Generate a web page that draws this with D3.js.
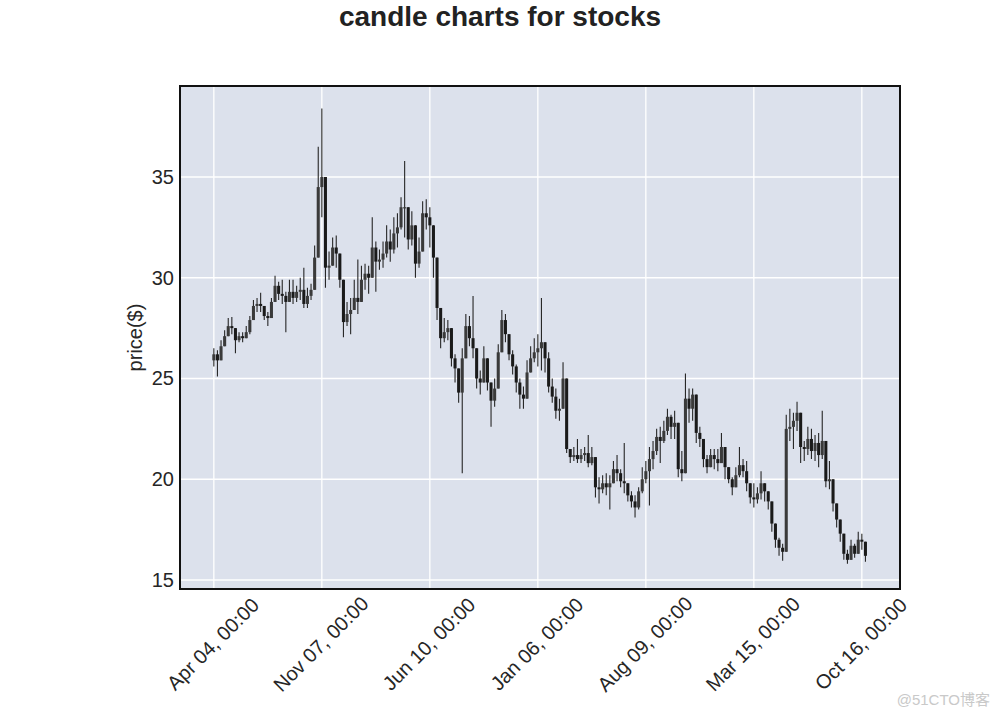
<!DOCTYPE html>
<html>
<head>
<meta charset="utf-8">
<script src="https://cdn.jsdelivr.net/npm/d3@7"></script>
<style>
  html, body { margin: 0; padding: 0; background: #ffffff; }
  svg { display: block; font-family: "Liberation Sans", Arial, Helvetica, sans-serif; }
</style>
</head>
<body>
<svg id="chart" width="1000" height="718"></svg>
<script>
// ---- data (one candle per 5 trading days) ----
const firstOpen = 25.9;
const closes = [
26.2,25.9,26.6,27.1,27.6,27.5,26.9,27.1,27.0,27.3,
27.9,28.6,28.7,28.6,28.1,28.0,28.8,29.6,29.2,29.1,
28.8,29.3,29.0,29.3,29.4,28.7,29.1,29.4,31.0,34.5,
35.0,30.5,30.6,31.5,31.2,29.9,27.8,28.2,28.4,29.0,
28.8,29.9,30.2,30.0,31.5,30.8,30.9,31.2,31.8,31.4,
32.2,32.5,33.5,33.5,31.9,32.6,30.7,31.3,33.2,33.0,
32.6,31.0,28.5,27.0,27.3,27.5,26.0,25.5,24.3,26.0,
27.6,27.0,26.5,25.0,24.8,26.0,24.8,23.9,24.5,26.3,
27.9,27.2,26.2,25.6,24.8,24.2,24.0,25.3,26.0,26.3,
26.5,26.8,26.0,24.6,24.1,23.4,23.5,25.0,21.5,21.1,
21.2,21.0,21.2,21.3,20.8,21.1,19.6,19.5,19.8,19.6,
19.8,20.5,20.3,19.9,19.8,19.2,18.9,18.6,19.4,20.0,
20.4,21.0,21.4,22.1,21.9,22.4,23.1,22.6,22.8,20.5,
20.3,24.0,23.5,24.2,22.3,22.0,21.0,20.6,21.2,21.0,
20.8,21.6,20.6,20.0,19.6,20.2,20.7,20.4,19.8,19.1,
19.0,19.3,19.8,19.4,18.9,17.8,17.0,16.6,16.4,22.5,
22.6,22.9,23.3,21.6,21.5,22.0,21.4,21.8,21.2,21.9,
19.9,20.0,18.8,18.0,17.3,16.3,16.0,16.7,16.3,17.0,
16.9,16.2];
const highs = [
26.5,26.4,26.9,27.4,28.0,28.05,27.5,27.3,27.3,27.6,
28.1,28.9,29.0,29.25,28.6,28.3,29.0,30.1,29.8,29.9,
29.3,29.9,29.9,29.6,30.0,30.5,29.5,29.7,31.6,36.5,
38.4,33.5,31.3,32.0,32.1,30.8,28.5,28.8,29.0,29.9,
30.9,30.6,30.7,30.6,33.0,31.8,31.4,31.8,32.6,32.4,
33.0,33.2,34.0,35.8,33.0,33.3,32.0,32.0,33.8,33.9,
33.5,32.5,30.8,28.0,28.0,27.9,26.9,26.2,25.3,26.5,
28.2,28.1,29.1,26.3,25.4,26.6,25.8,24.6,25.0,26.7,
28.4,28.2,27.0,26.4,25.7,25.0,24.6,25.9,26.6,27.0,
27.2,29.0,26.7,26.3,25.0,24.5,24.0,25.8,25.0,21.5,
21.6,22.0,21.5,21.6,22.2,21.6,21.0,20.1,20.2,20.3,
20.2,20.9,21.2,20.5,21.8,19.8,19.4,19.2,19.6,20.6,
20.9,21.6,21.9,22.5,22.6,22.9,23.5,23.2,23.4,22.0,
21.4,25.25,24.5,24.5,22.9,22.6,21.8,21.2,21.5,21.5,
21.5,22.3,21.3,20.5,20.1,20.6,21.6,21.0,20.9,19.6,
19.8,19.6,20.4,19.8,19.3,18.8,17.6,17.1,16.8,23.2,
23.5,23.3,23.85,22.6,21.9,22.6,22.5,22.2,22.3,23.4,
21.8,20.9,19.8,18.8,17.9,16.9,16.5,17.0,16.8,17.4,
17.3,16.6];
const lows = [
25.6,25.1,26.0,26.7,27.2,27.2,26.25,26.8,26.8,27.0,
27.2,27.9,28.3,28.3,27.9,27.6,28.0,28.9,28.9,28.7,
27.3,28.8,28.7,28.8,28.9,28.5,28.5,28.9,29.4,32.5,
33.0,29.5,29.9,30.6,30.5,29.5,27.05,27.6,27.2,28.4,
28.2,29.3,29.4,29.2,30.6,29.3,30.4,30.5,31.0,30.8,
31.2,31.5,32.4,32.0,31.4,31.6,30.0,30.5,31.8,32.4,
31.5,30.0,27.9,26.5,26.8,26.9,25.6,24.8,23.8,20.3,
26.5,26.6,26.0,24.5,24.2,24.9,24.4,22.6,23.6,25.1,
26.9,26.8,25.9,25.2,24.3,23.5,23.5,24.2,25.4,25.8,
25.6,25.4,25.3,24.3,23.8,23.0,22.9,23.5,21.3,20.8,
20.9,20.8,20.8,20.9,20.6,20.7,19.1,18.8,19.3,19.2,
18.5,19.8,19.9,19.6,19.3,18.9,18.6,18.1,18.5,19.3,
19.8,18.7,20.5,21.2,20.8,21.8,22.2,22.0,22.0,20.1,
19.9,22.6,22.8,22.9,21.8,21.6,20.6,20.3,20.6,20.5,
20.4,20.8,20.0,19.8,19.2,19.9,20.1,20.1,19.4,18.8,
18.6,18.8,19.0,18.9,18.5,17.4,16.6,16.2,15.95,16.4,
21.9,21.5,22.4,20.8,20.9,21.2,21.0,20.9,20.6,21.0,
19.6,19.5,18.4,17.6,16.9,16.0,15.8,16.0,16.1,16.6,
16.5,15.9];
const tickLabels = ["Apr 04, 00:00","Nov 07, 00:00","Jun 10, 00:00","Jan 06, 00:00","Aug 09, 00:00","Mar 15, 00:00","Oct 16, 00:00"];
const tickEvery = 30;            // candles between labelled ticks
const yTicks = [15, 20, 25, 30, 35];
const title = "candle charts for stocks";
const yLabel = "price($)";

// ---- build candle table ----
const candles = closes.map((c, i) => {
  const o = i === 0 ? firstOpen : closes[i - 1];
  return { i, o, c, h: Math.max(highs[i], o, c), l: Math.min(lows[i], o, c) };
});

// ---- layout ----
const W = 1000, H = 718;
const m = { left: 180, top: 86, right: 100, bottom: 129 };
const pw = W - m.left - m.right, ph = H - m.top - m.bottom;

const svg = d3.select("#chart");
const x = d3.scaleLinear().domain([-9.4, 190.6]).range([m.left, m.left + pw]);
const y = d3.scaleLinear().domain([14.553, 39.516]).range([m.top + ph, m.top]);

// background
svg.append("rect").attr("x", m.left).attr("y", m.top).attr("width", pw).attr("height", ph)
  .attr("fill", "#dce1ec");

const tickIdx = tickLabels.map((_, k) => k * tickEvery);

// grid
const g = svg.append("g");
g.selectAll("line.vx").data(tickIdx).join("line")
  .attr("x1", d => x(d)).attr("x2", d => x(d)).attr("y1", m.top).attr("y2", m.top + ph)
  .attr("stroke", "#ffffff").attr("stroke-width", 1.3);
g.selectAll("line.hy").data(yTicks).join("line")
  .attr("x1", m.left).attr("x2", m.left + pw).attr("y1", d => y(d)).attr("y2", d => y(d))
  .attr("stroke", "#ffffff").attr("stroke-width", 1.3);

// candles
const clip = svg.append("clipPath").attr("id", "clip").append("rect")
  .attr("x", m.left).attr("y", m.top).attr("width", pw).attr("height", ph);
const cg = svg.append("g").attr("clip-path", "url(#clip)");
const step = x(1) - x(0);
const bw = step * 0.85;
cg.selectAll("line.wick").data(candles).join("line")
  .attr("x1", d => x(d.i)).attr("x2", d => x(d.i))
  .attr("y1", d => y(d.h)).attr("y2", d => y(d.l))
  .attr("stroke", "#262626").attr("stroke-width", 1.1);
cg.selectAll("rect.body").data(candles).join("rect")
  .attr("x", d => x(d.i) - bw / 2).attr("width", bw)
  .attr("y", d => y(Math.max(d.o, d.c)))
  .attr("height", d => Math.max(1.2, Math.abs(y(d.o) - y(d.c))))
  .attr("fill", d => d.c >= d.o ? "#3a3a3a" : "#1a1a1a");

// frame
svg.append("rect").attr("x", m.left).attr("y", m.top).attr("width", pw).attr("height", ph)
  .attr("fill", "none").attr("stroke", "#111111").attr("stroke-width", 2);

// y axis labels
const yAxis = d3.axisLeft(y).tickValues(yTicks).tickSize(0).tickPadding(6);
const ya = svg.append("g").attr("transform", `translate(${m.left},0)`).call(yAxis);
ya.select(".domain").remove();
ya.selectAll("text").attr("font-size", 20).attr("fill", "#262626")
  .attr("font-family", "'Liberation Sans', Arial, sans-serif");

// x axis labels (rotated 45, centred on tick)
const xa = svg.append("g");
xa.selectAll("text").data(tickLabels).join("text")
  .attr("transform", (d, k) => `translate(${x(tickIdx[k]) - 1},${644}) rotate(-45)`)
  .attr("text-anchor", "middle").attr("dominant-baseline", "central")
  .attr("font-size", 20).attr("fill", "#262626")
  .text(d => d);

// y label
svg.append("text")
  .attr("transform", `translate(135,${m.top + ph / 2}) rotate(-90)`)
  .attr("text-anchor", "middle").attr("dominant-baseline", "central")
  .attr("font-size", 20).attr("fill", "#262626").text(yLabel);

// title
svg.append("text").attr("x", 500).attr("y", 26).attr("text-anchor", "middle")
  .attr("font-size", 28).attr("font-weight", "bold").attr("fill", "#222222").text(title);

// watermark
svg.append("text").attr("x", 990).attr("y", 705).attr("text-anchor", "end")
  .attr("font-size", 15).attr("fill", "#c9c9c9")
  .attr("font-family", "'Liberation Sans', 'Noto Sans CJK SC', sans-serif")
  .text("@51CTO博客");
</script>
</body>
</html>
